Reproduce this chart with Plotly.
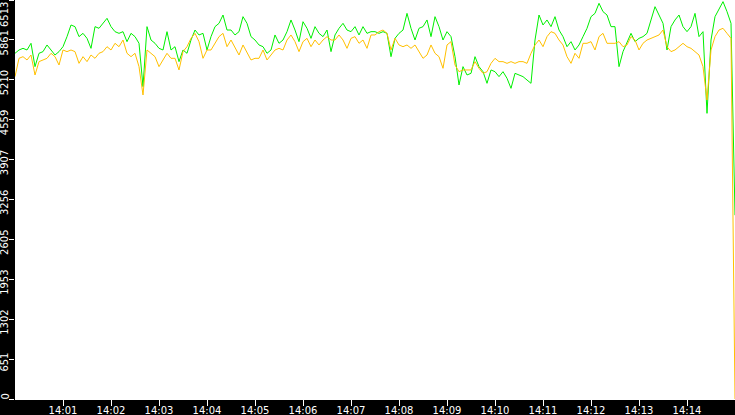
import pandas as pd
import plotly.graph_objects as go

# valores (uma amostra a cada 5 s, 14:00:00 .. 14:15:00)
verde = [5643, 5697, 5724, 5697, 5806, 5425, 5643, 5670, 5779, 5697, 5615, 5670, 5751, 5915, 6105, 6078, 5915, 5969, 5887, 5724,
         6078, 6051, 6132, 6214, 6078, 5996, 5969, 5996, 5833, 5969,
         5915, 5806, 5099, 6078, 5860, 5806, 5724, 5697, 5996, 5697, 5751, 5507, 5697, 5643, 5860, 6023, 5942, 5969, 5697, 5915,
         6078, 6132, 6268, 6023, 6023, 5942, 5996, 6241, 6132, 5915,
         5860, 5779, 5751, 5643, 5697, 5942, 5806, 5860, 5996, 6187, 6023, 5833, 6159, 6051, 5887, 6078, 5969, 5915, 6023, 5670,
         5942, 6051, 6132, 6023, 5996, 6078, 5942, 6078, 5969, 5996,
         5996, 5969, 5996, 5969, 5588, 5887, 5969, 6023, 6295, 6051, 5860, 6051, 6078, 6187, 5915, 6241, 6078, 5860, 5996, 5915,
         5588, 5126, 5425, 5289, 5316, 5588, 5425, 5343, 5153, 5371,
         5343, 5262, 5343, 5235, 5071, 5316, 5289, 5262, 5207, 5153, 5860, 6268, 6105, 6187, 6078, 6241, 6023, 5915, 5751, 5833,
         5697, 5779, 5915, 6051, 6241, 6295, 6459, 6323, 6268, 6078,
         6078, 5425, 5670, 5806, 5969, 5833, 5887, 5915, 5969, 6187, 6404, 6268, 6132, 5697, 6078, 6187, 6268, 6078, 5996, 6078,
         6295, 5915, 5996, 4663, 5860, 6241, 6377, 6486, 6323, 6132, 3000]
laranja = [5262, 5561, 5588, 5534, 5615, 5289, 5507, 5534, 5561, 5643, 5588, 5452, 5697, 5670, 5697, 5670, 5479, 5588, 5507, 5615,
           5561, 5643, 5670, 5751, 5697, 5806, 5751, 5860, 5643, 5588,
           5643, 5425, 4963, 5697, 5643, 5588, 5425, 5534, 5643, 5561, 5561, 5371, 5670, 5751, 5887, 5969, 5833, 5561, 5697, 5697,
           5806, 5915, 5969, 5751, 5860, 5724, 5615, 5779, 5643, 5534,
           5561, 5561, 5697, 5534, 5615, 5697, 5724, 5697, 5860, 5942, 5833, 5670, 5833, 5887, 5751, 5860, 5779, 5860, 5915, 5860,
           5860, 5942, 5860, 5724, 5887, 5915, 5806, 5860, 5724, 5942,
           5942, 5996, 6023, 5969, 5697, 5887, 5779, 5751, 5779, 5724, 5779, 5670, 5561, 5615, 5779, 5643, 5588, 5398, 5779, 5833,
           5452, 5343, 5371, 5371, 5371, 5507, 5398, 5316, 5343, 5479,
           5561, 5507, 5507, 5479, 5507, 5479, 5507, 5507, 5479, 5643, 5779, 5860, 5751, 5915, 5996, 5969, 5860, 5779, 5588, 5479,
           5643, 5561, 5806, 5806, 5833, 5697, 5915, 5969, 5806, 5806,
           5806, 5833, 5751, 5779, 5915, 5860, 5697, 5806, 5860, 5887, 5915, 5942, 6023, 5751, 5670, 5697, 5751, 5806, 5751, 5724,
           5670, 5615, 5425, 4881, 5697, 5915, 6023, 6051, 5969, 5887, 0]

horas = ['14:01', '14:02', '14:03', '14:04', '14:05', '14:06', '14:07',
         '14:08', '14:09', '14:10', '14:11', '14:12', '14:13', '14:14']
valores_y = [0, 651, 1302, 1953, 2605, 3256, 3907, 4559, 5210, 5861, 6513]

tempo = pd.date_range('2024-01-01 14:00:00', periods=len(verde), freq='5s')
ticks_x = pd.to_datetime(['2024-01-01 ' + h for h in horas])

fig = go.Figure()
fig.add_trace(go.Scatter(x=tempo, y=verde, mode='lines', line=dict(color='#00f000', width=1)))
fig.add_trace(go.Scatter(x=tempo, y=laranja, mode='lines', line=dict(color='#ffc000', width=1)))

fig.update_layout(width=735, height=415, showlegend=False,
                  paper_bgcolor='black', plot_bgcolor='white',
                  margin=dict(l=15, r=0, t=0, b=16),
                  font=dict(family='DejaVu Sans', size=10, color='white'))
fig.update_xaxes(range=[tempo[0], tempo[-1]], tickvals=ticks_x, ticktext=horas,
                 ticks='outside', ticklen=6, tickcolor='white', showgrid=False,
                 ticklabelstandoff=-4,
                 showline=True, linecolor='white', linewidth=1, zeroline=False, automargin=False)
fig.update_yaxes(range=[0, 6513], tickvals=valores_y, showticklabels=False,
                 ticks='outside', ticklen=5, tickcolor='white', showgrid=False,
                 zeroline=False, automargin=False)

# rotulos do eixo y na vertical, escritos a mao para nao serem cortados
for v in valores_y:
    if v == valores_y[-1]:
        fig.add_annotation(text=str(v), xref='paper', yref='paper', x=0, y=1, xanchor='right', yanchor='top',
                           xshift=-4, yshift=-1, textangle=-90, showarrow=False, borderpad=0)
    elif v == 0:
        fig.add_annotation(text=str(v), xref='paper', yref='y', x=0, y=v, xanchor='right', yanchor='middle',
                           xshift=-4, yshift=2, textangle=-90, showarrow=False, borderpad=0)
    else:
        fig.add_annotation(text=str(v), xref='paper', yref='y', x=0, y=v, xanchor='right', yanchor='middle',
                           xshift=-4, yshift=-3, textangle=-90, showarrow=False, borderpad=0)

# tira a margem do body para o grafico ocupar a janela toda
fig.write_html("out.html", config={'displayModeBar': False},
               post_script="document.body.style.margin='0';document.body.style.background='black';")
